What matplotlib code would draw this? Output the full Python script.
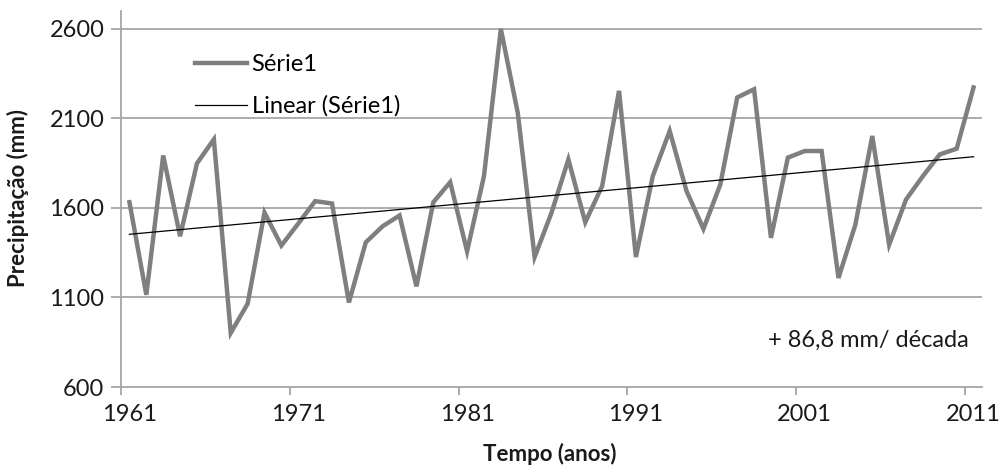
from matplotlib import pyplot as plt
import numpy as np

plt.rcParams['font.family'] = ['Lato', 'DejaVu Sans']

anos = list(range(1961, 2012))
precipitacao = [1632, 1115, 1893, 1442, 1849, 1983, 902, 1065, 1574, 1390,
                1513, 1638, 1625, 1072, 1408, 1498, 1558, 1162, 1632, 1744,
                1358, 1778, 2600, 2132, 1326, 1573, 1871, 1520, 1722, 2254,
                1326, 1778, 2030, 1694, 1483, 1731, 2217, 2263, 1433, 1881,
                1918, 1918, 1209, 1507, 2002, 1395, 1647, 1778, 1899, 1931,
                2273]
y_ticks = [600, 1100, 1600, 2100, 2600]
x_labels = [1961, 1971, 1981, 1991, 2001, 2011]

xs = np.array(anos)
ys = np.array(precipitacao)
coef = np.polyfit(xs, ys, 1)
trend = np.polyval(coef, xs)

fig = plt.figure(figsize=(10.03, 4.68), dpi=100)
ax = fig.add_axes([121 / 1003, 1 - 387 / 468, (982 - 121) / 1003, (387 - 11) / 468])

grid_c = '#a6a6a6'
txt_c = '#1a1a1a'
for v in y_ticks[1:]:
    ax.axhline(v, color=grid_c, linewidth=1.3, zorder=0)

ax.plot(xs, ys, color='#7f7f7f', linewidth=3.2, label='Série1', zorder=3,
        solid_joinstyle='miter')
ax.plot(xs, trend, color='black', linewidth=0.9, label='Linear (Série1)', zorder=4)

ax.set_xlim(1960.5, 2011.5)
ax.set_ylim(600, 2700)
ax.set_yticks(y_ticks)
ax.set_yticklabels([str(v) for v in y_ticks], fontsize=17)
ax.set_xticks(x_labels)
ax.set_xticklabels([str(v) for v in x_labels], fontsize=17)
ax.set_xticks([a - 0.5 for a in x_labels], minor=True)
ax.tick_params(axis='x', which='major', length=0, pad=12, colors=txt_c)
ax.tick_params(axis='x', which='minor', length=6, width=1.3, color=grid_c)
ax.tick_params(axis='y', length=7, width=1.3, color=grid_c, pad=5, labelcolor=txt_c)

for s in ['top', 'right']:
    ax.spines[s].set_visible(False)
for s in ['left', 'bottom']:
    ax.spines[s].set_color(grid_c)
    ax.spines[s].set_linewidth(1.3)

# posicoes dos titulos dos eixos em pixels da figura
ax.set_xlabel('Tempo (anos)', fontsize=16, fontweight='bold', color=txt_c)
ax.xaxis.set_label_coords((550 - 121) / 861, -(443 - 387) / 376)
ax.set_ylabel('Precipitação (mm)', fontsize=16, fontweight='bold', color=txt_c)
ax.yaxis.set_label_coords(-(121 - 29) / 861, (387 - 198) / 376)

ax.legend(loc='upper left', bbox_to_anchor=(0.075, 0.91), frameon=False,
          fontsize=17, handlelength=2.2, handletextpad=0.2, labelspacing=0.85,
          borderaxespad=0)

ax.text(0.985, 0.125, '+ 86,8 mm/ década', transform=ax.transAxes,
        ha='right', va='center', fontsize=17, color=txt_c)

fig.savefig('out.png', dpi=100)
